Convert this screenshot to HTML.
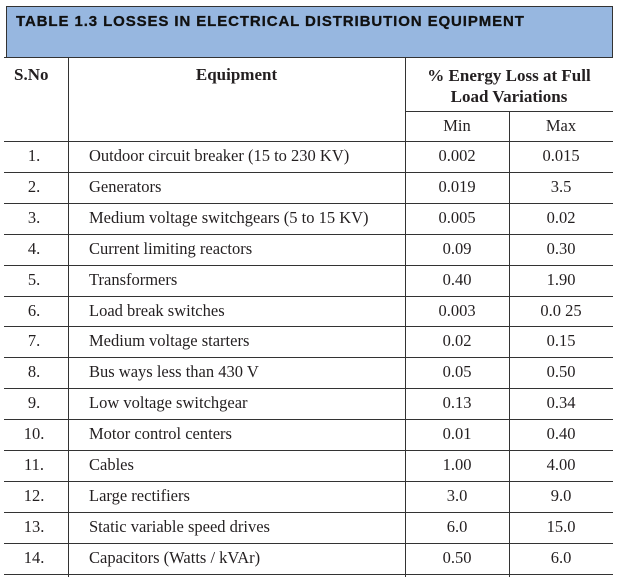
<!DOCTYPE html>
<html><head><style>
body{margin:0;width:619px;height:582px;background:#fff;position:relative;overflow:hidden;font-family:"Liberation Serif",serif;color:#231f20}
.hdr{position:absolute;left:6px;top:6px;width:607px;height:51px;background:#97b7e0;border:1px solid #333;border-bottom:none;box-sizing:border-box}
.hdr span{position:absolute;left:9px;top:6px;font:bold 15px "Liberation Sans",sans-serif;color:#111;letter-spacing:0.9px;-webkit-text-stroke:0.3px #111}
.h{position:absolute;left:4px;width:609px;height:1px;background:#333}
.v{position:absolute;width:1px;background:#333}
.t{position:absolute;font-size:16.5px;white-space:nowrap;line-height:18px}
.c{text-align:center}
</style></head><body>
<div class="hdr"><span>TABLE 1.3 LOSSES IN ELECTRICAL DISTRIBUTION EQUIPMENT</span></div>
<div class="h" style="top:57px"></div>
<div class="h" style="top:111px;left:405px;width:208px"></div>
<div class="v" style="left:68px;top:57px;height:520px"></div>
<div class="v" style="left:405px;top:57px;height:520px"></div>
<div class="v" style="left:509px;top:111px;height:466px"></div>
<div class="t" style="left:14px;top:66px;font-weight:bold;font-size:17px">S.No</div>
<div class="t c" style="left:68px;width:337px;top:66px;font-weight:bold;font-size:17px">Equipment</div>
<div class="t c" style="left:405px;width:208px;top:65px;font-weight:bold;line-height:21px;font-size:17px">% Energy Loss at Full<br>Load Variations</div>
<div class="t c" style="left:405px;width:104px;top:117px">Min</div>
<div class="t c" style="left:509px;width:104px;top:117px">Max</div>
<div id="rows"></div>
<script>
var d=[["Outdoor circuit breaker (15 to 230 KV)","0.002","0.015"],["Generators","0.019","3.5"],["Medium voltage switchgears (5 to 15 KV)","0.005","0.02"],["Current limiting reactors","0.09","0.30"],["Transformers","0.40","1.90"],["Load break switches","0.003","0.0 25"],["Medium voltage starters","0.02","0.15"],["Bus ways less than 430 V","0.05","0.50"],["Low voltage switchgear","0.13","0.34"],["Motor control centers","0.01","0.40"],["Cables","1.00","4.00"],["Large rectifiers","3.0","9.0"],["Static variable speed drives","6.0","15.0"],["Capacitors (Watts / kVAr)","0.50","6.0"]];
var h='<div class="h" style="top:141px"></div>';
for(var i=0;i<14;i++){var y=141+i*30.9;var ty=y+6;
h+='<div class="t c" style="left:5px;width:58px;top:'+ty+'px">'+(i+1)+'.</div>';
h+='<div class="t" style="left:89px;top:'+ty+'px">'+d[i][0]+'</div>';
h+='<div class="t c" style="left:405px;width:104px;top:'+ty+'px">'+d[i][1]+'</div>';
h+='<div class="t c" style="left:509px;width:104px;top:'+ty+'px">'+d[i][2]+'</div>';
h+='<div class="h" style="top:'+Math.round(y+30.9)+'px"></div>';}
document.getElementById('rows').innerHTML=h;
</script>
</body></html>
